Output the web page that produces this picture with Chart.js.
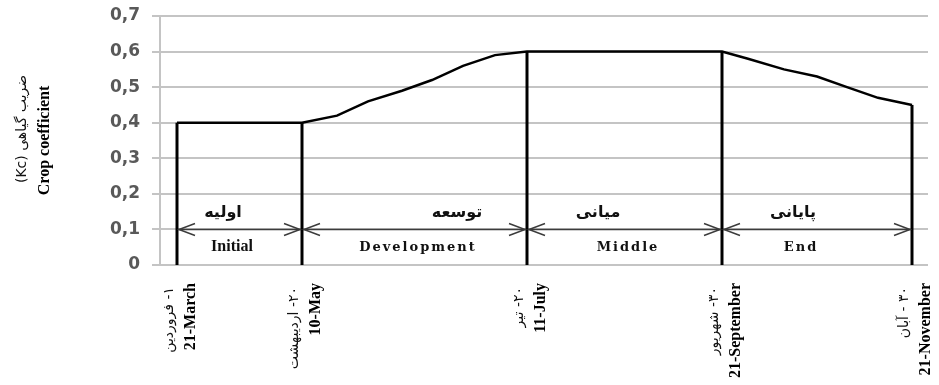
<!DOCTYPE html>
<html lang="fa">
<head>
<meta charset="UTF-8">
<title>Crop coefficient</title>
<script src="https://cdn.jsdelivr.net/npm/chart.js"></script>
<style>
  body { margin: 0; background: #fff; }
  #wrap { width: 939px; height: 385px; }
</style>
</head>
<body>
<div id="wrap"><canvas id="kcChart"></canvas></div>
<script>
// stage boundaries along the season (x in chart units)
const stageX = [17, 142, 367, 562, 752];
const stageKc = [0.40, 0.40, 0.60, 0.60, 0.45];
const dateFa = ['۱- فروردین', '۲۰- اردیبهشت', '۲۰- تیر', '۳۰- شهریور', '۳۰ - آبان'];
const dateEn = ['21-March', '10-May', '11-July', '21-September', '21-November'];

// Kc curve
const curveX = [17, 142, 177, 208, 242, 272, 303, 335, 367, 562, 588, 624, 657, 687, 718, 752];
const curveKc = [0.40, 0.40, 0.42, 0.46, 0.49, 0.52, 0.56, 0.59, 0.60, 0.60, 0.58, 0.55, 0.53, 0.50, 0.47, 0.45];

// growth stage names
const stageFa = ['اولیه', 'توسعه', 'میانی', 'پایانی'];
const stageEn = ['Initial', 'Development', 'Middle', 'End'];
const stageFaX = [63, 297, 438, 633];
const stageEnX = [72, 257, 467, 640];
const stageFaKc = 0.146;
const stageEnKc = 0.05;
const arrowKc = 0.1;

const titleFa = '(Kc) ضریب گیاهی';
const titleEn = 'Crop coefficient';

const datasets = [];
// main curve
datasets.push({
    data: curveX.map((x, i) => ({ x: x, y: curveKc[i] })),
    borderColor: '#000', borderWidth: 2.5, pointRadius: 0, tension: 0
});
// vertical stage lines
stageX.forEach((x, i) => {
    datasets.push({
        data: [{ x: x, y: 0 }, { x: x, y: stageKc[i] }],
        borderColor: '#000', borderWidth: 3, pointRadius: 0
    });
});
// arrow shafts
for (let i = 0; i < stageX.length - 1; i++) {
    datasets.push({
        data: [{ x: stageX[i], y: arrowKc }, { x: stageX[i + 1], y: arrowKc }],
        borderColor: '#3c3c3c', borderWidth: 1.5, pointRadius: 0
    });
}

const stagePlugin = {
    id: 'stages',
    afterDatasetsDraw(chart) {
        const { ctx, scales: { x, y } } = chart;
        const ay = y.getPixelForValue(arrowKc);
        ctx.save();
        ctx.strokeStyle = '#3c3c3c';
        ctx.lineWidth = 1.5;
        for (let i = 0; i < stageX.length - 1; i++) {
            const x1 = x.getPixelForValue(stageX[i]) + 2;
            const x2 = x.getPixelForValue(stageX[i + 1]) - 2;
            ctx.beginPath();
            ctx.moveTo(x1 + 16, ay - 6); ctx.lineTo(x1, ay); ctx.lineTo(x1 + 16, ay + 6);
            ctx.moveTo(x2 - 16, ay - 6); ctx.lineTo(x2, ay); ctx.lineTo(x2 - 16, ay + 6);
            ctx.stroke();
        }
        ctx.fillStyle = '#111';
        ctx.textAlign = 'center';
        ctx.textBaseline = 'middle';
        ctx.font = 'bold 16px "DejaVu Sans"';
        stageFa.forEach((t, i) => {
            ctx.fillText(t, x.getPixelForValue(stageFaX[i]), y.getPixelForValue(stageFaKc));
        });
        stageEn.forEach((t, i) => {
            if (i === 0) {
                ctx.font = 'bold 16px "Liberation Serif"';
                ctx.letterSpacing = '0px';
            } else {
                ctx.font = 'bold 13px "DejaVu Serif"';
                ctx.letterSpacing = '2px';
            }
            ctx.fillText(t, x.getPixelForValue(stageEnX[i]) + (i === 0 ? 0 : 1), y.getPixelForValue(stageEnKc));
        });
        ctx.restore();

        // Persian dates beside the English tick labels, and Persian axis title
        ctx.save();
        ctx.fillStyle = '#111';
        ctx.font = '14px "DejaVu Sans"';
        ctx.textBaseline = 'middle';
        ctx.textAlign = 'right';
        ctx.direction = 'rtl';
        stageX.forEach((v, i) => {
            ctx.save();
            ctx.translate(x.getPixelForValue(v) - 8, x.top + 22);
            ctx.rotate(-Math.PI / 2);
            ctx.fillText(dateFa[i], 0, 0);
            ctx.restore();
        });
        ctx.direction = 'ltr';
        ctx.textAlign = 'center';
        ctx.translate(22, 129);
        ctx.rotate(-Math.PI / 2);
        ctx.fillText(titleFa, 0, 0);
        ctx.restore();
    }
};

new Chart(document.getElementById('kcChart'), {
    type: 'line',
    data: { datasets: datasets },
    options: {
        responsive: true,
        maintainAspectRatio: false,
        animation: false,
        events: [],
        layout: { padding: { top: 16, right: 11, bottom: 0, left: 0 } },
        plugins: { legend: { display: false }, tooltip: { enabled: false } },
        scales: {
            x: {
                type: 'linear',
                min: 0,
                max: 768,
                afterBuildTicks: (scale) => {
                    scale.ticks = stageX.map(v => ({ value: v }));
                },
                afterFit: (scale) => {
                    scale.height = 120;
                    scale.paddingLeft = 0;
                    scale.paddingRight = 0;
                },
                grid: { display: false, drawTicks: false },
                border: { display: false },
                ticks: {
                    autoSkip: false,
                    minRotation: 90,
                    maxRotation: 90,
                    padding: 18,
                    labelOffset: 14,
                    color: '#000',
                    font: { family: '"Liberation Serif"', size: 16, weight: 'bold' },
                    callback: (value, index) => dateEn[index]
                }
            },
            y: {
                min: 0,
                max: 0.7,
                afterFit: (scale) => {
                    scale.width = 160;
                    scale.paddingTop = 0;
                    scale.paddingBottom = 0;
                },
                grid: { color: '#c4c4c4', lineWidth: 2, drawTicks: true, tickLength: 8 },
                border: { display: true, color: '#c4c4c4', width: 2 },
                ticks: {
                    stepSize: 0.1,
                    padding: 12,
                    color: '#595959',
                    font: { family: '"DejaVu Sans"', size: 17, weight: 'bold' },
                    callback: (v) => v === 0 ? '0' : v.toFixed(1).replace('.', ',')
                },
                title: {
                    display: true,
                    text: titleEn,
                    color: '#000',
                    padding: { top: 35, bottom: 0 },
                    font: { family: '"Liberation Serif"', size: 16, weight: 'bold' }
                }
            }
        }
    },
    plugins: [stagePlugin]
});
</script>
</body>
</html>
